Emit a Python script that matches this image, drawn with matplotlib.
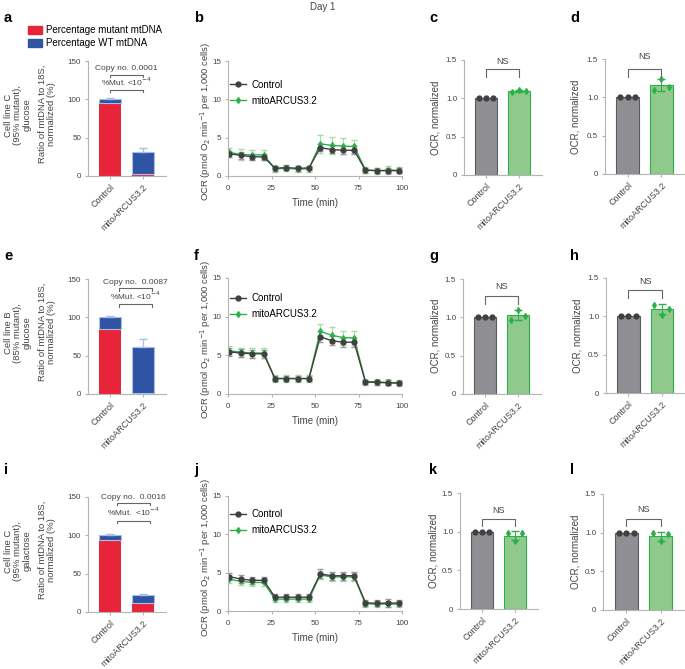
import numpy as np
import matplotlib
matplotlib.use("Agg")
import matplotlib.pyplot as plt
from matplotlib.patches import Patch
from matplotlib.lines import Line2D

plt.rcParams['font.family'] = ['Liberation Sans', 'DejaVu Sans']

W, H = 685, 669

# ---- data ----
groups = ['Control', 'mitoARCUS3.2']

# mtDNA copy number panels (a, e, i): total, mutant part, SD
a_total = [101, 31]
a_mut = [95, 2]
a_err = [1, 6]
e_total = [100, 61]
e_mut = [85, 1]
e_err = [1.5, 11]
i_total = [101, 22]
i_mut = [94, 12]
i_err = [0.8, 2]
a_stats = ['Copy no. 0.0001', '%Mut. <10$^{-4}$']
e_stats = ['Copy no.  0.0087', '%Mut. <10$^{-4}$']
i_stats = ['Copy no.  0.0016', '%Mut.  <10$^{-4}$']
cell_lines = ['Cell line C\n(95% mutant),\nglucose',
              'Cell line B\n(85% mutant),\nglucose',
              'Cell line C\n(95% mutant),\ngalactose']

# Seahorse time course (b, f, j)
time = [0.5, 7.5, 14, 20.5, 27, 33.5, 40, 46.5, 53, 59.5, 66, 72.5, 79, 85.5, 92, 98.5]
b_ctrl = [2.9, 2.7, 2.5, 2.5, 1.0, 1.1, 1.0, 1.05, 3.7, 3.45, 3.35, 3.35, 0.75, 0.7, 0.7, 0.7]
b_ctrl_err = [0.4, 0.45, 0.4, 0.4, 0.3, 0.3, 0.3, 0.3, 0.5, 0.5, 0.5, 0.5, 0.3, 0.3, 0.3, 0.3]
b_mito = [3.1, 2.8, 2.75, 2.75, 0.95, 1.0, 0.9, 0.95, 4.2, 4.0, 3.9, 3.85, 0.8, 0.7, 0.75, 0.75]
b_mito_err = [0.6, 0.7, 0.6, 0.6, 0.4, 0.4, 0.4, 0.4, 1.2, 1.1, 1.0, 0.9, 0.4, 0.4, 0.5, 0.4]
f_ctrl = [5.45, 5.3, 5.2, 5.2, 2.0, 2.0, 2.0, 2.0, 7.4, 6.9, 6.7, 6.7, 1.55, 1.5, 1.45, 1.4]
f_ctrl_err = [0.5, 0.5, 0.5, 0.5, 0.3, 0.3, 0.3, 0.3, 0.7, 0.6, 0.6, 0.6, 0.3, 0.3, 0.3, 0.3]
f_mito = [5.6, 5.4, 5.3, 5.3, 2.0, 2.0, 2.0, 2.0, 8.1, 7.6, 7.3, 7.25, 1.6, 1.55, 1.5, 1.45]
f_mito_err = [0.6, 0.6, 0.6, 0.6, 0.4, 0.4, 0.4, 0.4, 1.0, 1.0, 0.9, 0.9, 0.4, 0.4, 0.4, 0.4]
j_ctrl = [4.5, 4.15, 4.0, 4.0, 1.8, 1.8, 1.8, 1.8, 4.85, 4.6, 4.6, 4.6, 1.08, 1.0, 1.04, 1.04]
j_ctrl_err = [0.5, 0.5, 0.5, 0.4, 0.4, 0.4, 0.4, 0.4, 0.6, 0.5, 0.5, 0.5, 0.4, 0.4, 0.5, 0.4]
j_mito = [4.15, 3.85, 3.72, 3.72, 1.55, 1.55, 1.55, 1.55, 4.7, 4.45, 4.45, 4.45, 0.95, 0.9, 0.9, 0.9]
j_mito_err = [0.5, 0.5, 0.5, 0.5, 0.4, 0.4, 0.4, 0.4, 0.5, 0.5, 0.5, 0.5, 0.4, 0.4, 0.4, 0.4]

# normalized OCR replicates (c, d, g, h, k, l)
ctrl_pts = [1.0, 1.0, 1.0]
c_mito = [1.08, 1.11, 1.10]
d_mito = [1.09, 1.245, 1.135]
g_mito = [0.97, 1.10, 1.02]
h_mito = [1.15, 1.02, 1.10]
k_mito = [0.98, 0.88, 0.98]
l_mito = [0.99, 0.89, 0.98]

RED = '#e8243a'
BLUE = '#2f54a3'
LBLUE = '#a9c0e6'
DARK = '#404040'
GREEN = '#2bb04a'
LGREEN = '#a7dba9'
GRAY_BAR = '#8e8e93'
GREEN_BAR = '#8fca8c'
SPINE = '#b4b4b4'
TXT = '#444444'

fig = plt.figure(figsize=(W / 100, H / 100), dpi=100)


def px(l, t, r, b):
    return [l / W, 1 - b / H, (r - l) / W, (b - t) / H]


def style(ax):
    for s in ['top', 'right']:
        ax.spines[s].set_visible(False)
    for s in ['left', 'bottom']:
        ax.spines[s].set_color(SPINE)
        ax.spines[s].set_linewidth(0.8)
    ax.tick_params(colors=SPINE, labelcolor=TXT, labelsize=5.8, length=2.5, width=0.8, pad=2.5)


def cat_ticks(ax):
    ax.set_xticks([0, 1])
    ax.set_xticklabels(groups, rotation=45, ha='right', rotation_mode='anchor', fontsize=6.5)


def copy_panel(rect, total, mut, err, stats, brx, bry):
    ax = fig.add_axes(px(*rect))
    style(ax)
    x = np.arange(2)
    wt = [t - m for t, m in zip(total, mut)]
    ax.bar(x, mut, width=0.67, color=RED, edgecolor='none')
    ax.bar(x, wt, bottom=mut, width=0.67, color=BLUE, edgecolor=LBLUE, linewidth=0.8)
    ax.errorbar(x, total, yerr=[[0, 0], err], fmt='none', ecolor=LBLUE, elinewidth=0.9, capsize=3)
    ax.set_xlim(-0.67, 1.7)
    ax.set_ylim(0, 150)
    ax.set_yticks([0, 50, 100, 150])
    cat_ticks(ax)
    for lab, h in zip(stats, bry):
        ax.plot([brx[0], brx[0], brx[1], brx[1]], [h - 3, h, h, h - 3], color='#666666', lw=0.8, clip_on=False)
        ax.text(np.mean(brx), h + 3, lab, ha='center', va='bottom', fontsize=6, color=TXT)
    return ax


def ocr_panel(rect, ctrl, ctrl_err, mito, mito_err, leg_y):
    ax = fig.add_axes(px(*rect))
    style(ax)
    ax.tick_params(axis='x', pad=4)
    ax.errorbar(time, mito, yerr=mito_err, fmt='none', ecolor=LGREEN, elinewidth=0.8, capsize=2)
    ax.errorbar(time, ctrl, yerr=ctrl_err, fmt='none', ecolor='#9a9a9a', elinewidth=0.8, capsize=2)
    ax.plot(time, mito, color=GREEN, lw=1, marker='d', markersize=3)
    ax.plot(time, ctrl, color=DARK, lw=1, marker='o', markersize=3.5)
    ax.set_xlim(0, 100)
    ax.set_ylim(0, 15)
    ax.set_xticks([0, 25, 50, 75, 100])
    ax.set_yticks([0, 5, 10, 15])
    ax.set_xlabel('Time (min)', fontsize=7, color=TXT, labelpad=4)
    handles = [Line2D([], [], color=DARK, lw=1, marker='o', markersize=3.5),
               Line2D([], [], color=GREEN, lw=1, marker='d', markersize=3)]
    ax.legend(handles, groups, loc='upper left', bbox_to_anchor=(-0.01, leg_y), frameon=False,
              fontsize=7, handlelength=1.6, handletextpad=0.6, labelspacing=0.6, borderaxespad=0)
    return ax


def norm_panel(rect, mito, br_h, ns_h):
    ax = fig.add_axes(px(*rect))
    style(ax)
    m = np.mean(mito)
    sd = np.std(mito, ddof=1)
    ax.bar([0, 1], [np.mean(ctrl_pts), m], width=0.67, color=[GRAY_BAR, GREEN_BAR],
           edgecolor=['#5c5c60', GREEN], linewidth=0.8)
    offs = [-0.22, 0, 0.22]
    ax.plot([o for o in offs], ctrl_pts, 'o', color=DARK, markersize=3.5, clip_on=False)
    ax.errorbar([1], [m], yerr=[sd], fmt='none', ecolor=GREEN, elinewidth=0.7, capsize=3)
    ax.plot([1 + o for o in offs], mito, 'd', color=GREEN, markersize=3)
    ax.plot([0, 0, 1, 1], [br_h - 0.1, br_h, br_h, br_h - 0.1], color='#666666', lw=0.8, clip_on=False)
    ax.text(0.5, ns_h, 'NS', ha='center', va='center', fontsize=6.5, color=TXT)
    ax.set_xlim(-0.67, 1.7)
    ax.set_ylim(0, 1.5)
    ax.set_yticks([0, 0.5, 1.0, 1.5])
    ax.set_yticklabels(['0', '0.5', '1.0', '1.5'])
    cat_ticks(ax)
    return ax


# ---- row 1 ----
copy_panel((88, 61, 166, 176), a_total, a_mut, a_err, a_stats, (0.0, 1.0), (132, 112))
ocr_panel((228, 61, 402, 176), b_ctrl, b_ctrl_err, b_mito, b_mito_err, 0.87)
norm_panel((464, 60, 542, 175), c_mito, 1.38, 1.48)
norm_panel((605, 59, 685, 174), d_mito, 1.37, 1.53)

# ---- row 2 ----
copy_panel((88, 279, 166, 394), e_total, e_mut, e_err, e_stats, (0.27, 1.27), (138, 117))
ocr_panel((228, 278, 402, 394), f_ctrl, f_ctrl_err, f_mito, f_mito_err, 0.9)
norm_panel((463, 279, 541, 394), g_mito, 1.28, 1.4)
norm_panel((606, 278, 685, 393), h_mito, 1.34, 1.45)

# ---- row 3 ----
copy_panel((88, 497, 166, 612), i_total, i_mut, i_err, i_stats, (0.2, 1.2), (142, 119))
ocr_panel((228, 496, 402, 611), j_ctrl, j_ctrl_err, j_mito, j_mito_err, 0.92)
norm_panel((460, 493, 538, 609), k_mito, 1.17, 1.28)
norm_panel((603, 494, 685, 610), l_mito, 1.18, 1.3)

# ---- side labels ----
row_mid = [118, 336, 554]
for yc, cl in zip(row_mid, cell_lines):
    fig.text(18 / W, 1 - (yc - 3) / H, cl, rotation=90, ha='center', va='center',
             fontsize=6.8, color=TXT, linespacing=1.05)
    fig.text(47 / W, 1 - (yc - 4) / H, 'Ratio of mtDNA to 18S,\nnormalized (%)', rotation=90,
             ha='center', va='center', fontsize=6.8, color=TXT, linespacing=1.05)
    fig.text(206 / W, 1 - (yc + 3) / H, 'OCR (pmol O$_2$ min$^{-1}$ per 1,000 cells)', rotation=90,
             ha='center', va='center', fontsize=6.8, color=TXT)
for x, yc in [(435, 118), (576, 117), (435, 336), (577, 336), (433, 551), (575, 552)]:
    fig.text(x / W, 1 - yc / H, 'OCR, normalized', rotation=90, ha='center', va='center',
             fontsize=7, color=TXT)

# ---- panel letters ----
letters = [('a', 4, 18), ('b', 194, 18), ('c', 429, 18), ('d', 570, 18),
           ('e', 4, 256), ('f', 194, 256), ('g', 429, 256), ('h', 570, 256),
           ('i', 4, 470), ('j', 194, 470), ('k', 429, 470), ('l', 570, 470)]
for lt, x, y in letters:
    fig.text(x / W, 1 - y / H, lt, fontsize=10.5, fontweight='bold', ha='left', va='center')

fig.text(323 / W, 1 - 7 / H, 'Day 1', fontsize=7, ha='center', va='center', color=TXT)

fig.legend([Patch(color=RED), Patch(color=BLUE)],
           ['Percentage mutant mtDNA', 'Percentage WT mtDNA'],
           loc='upper left', bbox_to_anchor=(24 / W, 1 - 21 / H), frameon=False, fontsize=7,
           handlelength=1.4, handleheight=0.9, handletextpad=0.5, labelspacing=0.35, borderaxespad=0)

fig.savefig('out.png', dpi=100)
